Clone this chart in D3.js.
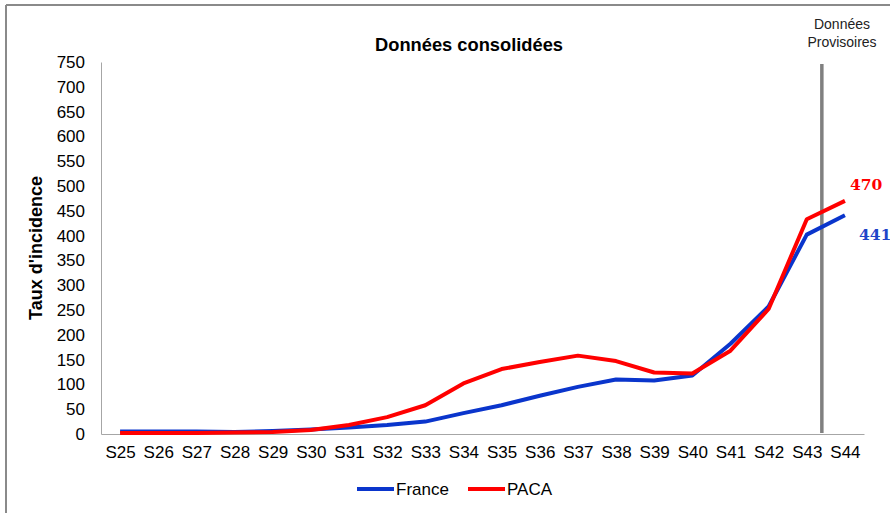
<!DOCTYPE html>
<html><head><meta charset="utf-8">
<script src="https://cdn.jsdelivr.net/npm/d3@7"></script>
<style>body{margin:0;background:#fff}svg{display:block}</style>
</head><body><div id="c"></div>
<script>
const weeks = ["S25","S26","S27","S28","S29","S30","S31","S32","S33","S34","S35","S36","S37","S38","S39","S40","S41","S42","S43","S44"];
const france = [5,5,5,4,6,9,13,18,25,42,58,77,95,110,108,118,182,257,402,441];
const paca = [2,2,2,3,4,8,18,34,58,102,131,145,158,147,124,122,168,252,433,470];
const yTicks = [0,50,100,150,200,250,300,350,400,450,500,550,600,650,700,750];
const seriesNames = ["France","PACA"];
const endLabels = ["441","470"];

(function(){
const W = 890, H = 513;
const sans = "'Liberation Sans', Arial, sans-serif";
const svg = d3.select("#c").append("svg").attr("width", W).attr("height", H)
  .style("font-family", sans);

svg.append("line").attr("x1",6).attr("x2",W).attr("y1",5).attr("y2",5).attr("stroke","#8a8a8a").attr("stroke-width",2);
svg.append("line").attr("x1",6).attr("x2",6).attr("y1",5).attr("y2",H).attr("stroke","#8a8a8a").attr("stroke-width",2);

const mLeft = 101, mRight = 864, mTop = 62, mBottom = 434;
const x = d3.scalePoint().domain(weeks).range([mLeft, mRight]).padding(0.5);
const y = d3.scaleLinear().domain([0, 750]).range([mBottom, mTop]);

const gy = svg.append("g").attr("transform", `translate(${mLeft},0)`)
  .call(d3.axisLeft(y).tickValues(yTicks).tickSize(0).tickPadding(16));
gy.attr("font-family", null).attr("font-size", null);
gy.select(".domain").attr("stroke","#a6a6a6");
gy.selectAll("text").style("font-size","17px").attr("fill","#000").style("font-family",sans);

const gx = svg.append("g").attr("transform", `translate(0,${mBottom})`)
  .call(d3.axisBottom(x).tickSize(0).tickPadding(12));
gx.attr("font-family", null).attr("font-size", null);
gx.select(".domain").attr("stroke","#a6a6a6");
gx.selectAll("text").style("font-size","17px").attr("fill","#000").style("font-family",sans);

svg.append("text").attr("x",469).attr("y",51).attr("text-anchor","middle")
  .style("font-size","18.3px").attr("font-weight","bold").text("Données consolidées");

svg.append("text").attr("transform","translate(42,248) rotate(-90)").attr("text-anchor","middle")
  .style("font-size","18px").attr("font-weight","bold").text("Taux d'incidence");

const xm = (x("S43") + x("S44")) / 2 - 4;
svg.append("line").attr("x1",xm).attr("x2",xm).attr("y1",y(750)+2).attr("y2",mBottom-1)
  .attr("stroke","#808080").attr("stroke-width",3.5);
const narrow = "'Liberation Sans Narrow', 'Arial Narrow', 'Liberation Sans', sans-serif";
svg.append("text").attr("x",842).attr("y",29).attr("text-anchor","middle").style("font-size","14px").attr("fill","#222")
  .style("font-family",narrow).text("Données");
svg.append("text").attr("x",842).attr("y",47).attr("text-anchor","middle").style("font-size","14px").attr("fill","#222")
  .style("font-family",narrow).text("Provisoires");

const colors = ["#0a35cc","#ff0000"];
const labelColors = ["#1f45c8","#ff0000"];
const data = [france, paca];
const line = d3.line().x((d,i)=>x(weeks[i])).y(d=>y(d));
data.forEach((s,k)=>{
  svg.append("path").datum(s).attr("d",line).attr("fill","none")
    .attr("stroke",colors[k]).attr("stroke-width",4).attr("stroke-linejoin","round");
});

const serif = "'DejaVu Serif', 'Liberation Serif', serif";
const last = weeks.length - 1;
svg.append("text").attr("x",x(weeks[last])+14).attr("y",y(france[last])+25)
  .style("font-family",serif).attr("font-weight","bold").style("font-size","15.5px")
  .attr("fill",labelColors[0]).text(endLabels[0]);
svg.append("text").attr("x",x(weeks[last])+5).attr("y",y(paca[last])-11)
  .style("font-family",serif).attr("font-weight","bold").style("font-size","15.5px")
  .attr("fill",labelColors[1]).text(endLabels[1]);

const legX = [357, 468];
seriesNames.forEach((n,k)=>{
  svg.append("line").attr("x1",legX[k]).attr("x2",legX[k]+37).attr("y1",489).attr("y2",489)
    .attr("stroke",colors[k]).attr("stroke-width",4);
  svg.append("text").attr("x",legX[k]+39).attr("y",495).style("font-size","17px").attr("fill","#000").text(n);
});
})();
</script></body></html>
